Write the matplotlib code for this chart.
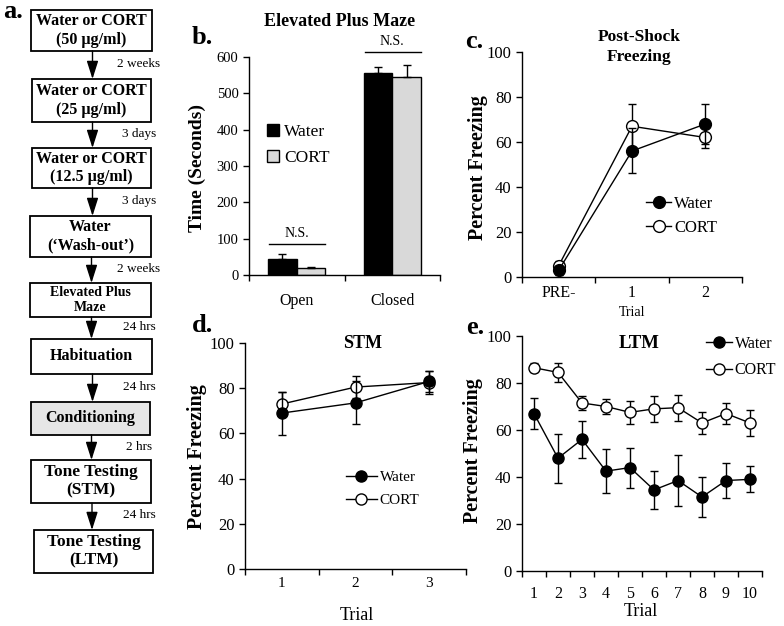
import matplotlib
matplotlib.use("Agg")
import matplotlib.pyplot as plt
from matplotlib.patches import Rectangle, FancyArrowPatch
from matplotlib.lines import Line2D
import numpy as np

plt.rcParams['font.family'] = ['Liberation Serif', 'DejaVu Serif']

W, H = 784, 626

# --- panel a: protocol steps
steps = ["Water or CORT\n(50 \u00b5g/ml)", "Water or CORT\n(25 \u00b5g/ml)",
         "Water or CORT\n(12.5 \u00b5g/ml)", "Water\n(\u2018Wash-out\u2019)",
         "Elevated Plus\nMaze", "Habituation", "Conditioning",
         "Tone Testing\n(STM)", "Tone Testing\n(LTM)"]
gaps = ["2 weeks", "3 days", "3 days", "2 weeks", "24 hrs", "24 hrs", "2 hrs", "24 hrs"]

# --- panel b: elevated plus maze
epm_groups = ["Open", "Closed"]
epm_water = [45, 555]
epm_water_err = [13, 17]
epm_cort = [20, 545]
epm_cort_err = [3, 33]

# --- panel c: post-shock freezing
shock_trials = ["PRE-", "1", "2"]
shock_water = [3, 56, 68]
shock_water_err = [2, 10, 9]
shock_cort = [5, 67, 62]
shock_cort_err = [2, 10, 4.5]

# --- panel d: STM
stm_trials = ["1", "2", "3"]
stm_water = [69, 73.5, 83]
stm_water_err = [9.5, 9.5, 4.5]
stm_cort = [73, 80.5, 82.5]
stm_cort_err = [5.5, 5, 5]

# --- panel e: LTM
ltm_trials = [str(i) for i in range(1, 11)]
ltm_water = [67, 48, 56, 42.5, 44, 34.5, 38.5, 31.5, 38.5, 39]
ltm_water_err = [6.5, 10.5, 8, 9.5, 8.5, 8, 11, 8.5, 7.5, 5.5]
ltm_cort = [86.5, 84.5, 71.5, 70, 67.5, 69, 69.5, 63, 67, 63]
ltm_cort_err = [2, 4, 3, 3, 5, 5.5, 5.5, 4.5, 4.5, 5.5]


fig = plt.figure(figsize=(W / 100, H / 100), dpi=100)


def px_axes(x0, y0, x1, y1):
    ax = fig.add_axes([x0 / W, 1 - y1 / H, (x1 - x0) / W, (y1 - y0) / H])
    ax.patch.set_visible(False)
    return ax


def style(ax, fs):
    for s in ['top', 'right']:
        ax.spines[s].set_visible(False)
    for s in ['left', 'bottom']:
        ax.spines[s].set_linewidth(1.0)
    ax.tick_params(direction='out', length=4, width=1, labelsize=fs)


def cat_axis(ax, labels, fs, pad):
    n = len(labels)
    ax.set_xlim(-0.5, n - 0.5)
    ax.set_xticks(range(n))
    ax.set_xticklabels(labels, fontsize=fs)
    ax.set_xticks(np.arange(n + 1) - 0.5, minor=True)
    ax.tick_params(axis='x', which='major', length=0, pad=pad)
    ax.tick_params(axis='x', which='minor', length=4, width=1, direction='out')


def lines(ax, y1, e1, y2, e2, ms=8):
    x = np.arange(len(y1))
    kw = dict(color='black', lw=1, capsize=3, elinewidth=1, capthick=1,
              marker='o', ms=ms, mec='black', mew=1, clip_on=False)
    ax.errorbar(x, y2, yerr=e2, mfc='white', zorder=3, **kw)
    ax.errorbar(x, y1, yerr=e1, mfc='black', zorder=4, **kw)


def line_legend(ax, xpx, ypx, fs, hl, sp, ms=8):
    hs = [Line2D([], [], color='black', lw=1, marker='o', ms=ms, mfc=c, mec='black')
          for c in ('black', 'white')]
    ax.legend(hs, ['Water', 'CORT'], loc='center left', bbox_to_anchor=(xpx / W, 1 - ypx / H),
              bbox_transform=fig.transFigure, frameon=False, fontsize=fs,
              handlelength=hl, handletextpad=0.2, labelspacing=sp,
              borderpad=0, borderaxespad=0)


# ---------- panel a (and figure-level text)
axa = fig.add_axes([0, 0, 1, 1])
axa.set_xlim(0, W)
axa.set_ylim(H, 0)
axa.axis('off')
axa.set_zorder(10)
boxes = [(31, 10, 152, 51), (32, 79, 151, 122), (32, 148, 151, 188),
         (30, 216, 151, 257), (30, 283, 151, 317), (31, 339, 152, 374),
         (31, 402, 150, 435), (31, 460, 151, 503), (34, 530, 153, 573)]
sizes = [11.5, 11.5, 11.5, 11.5, 10, 11.5, 11.5, 12.5, 12.5]
for i, (txt, (x0, y0, x1, y1)) in enumerate(zip(steps, boxes)):
    fc = '#e6e6e6' if txt == "Conditioning" else 'white'
    axa.add_patch(Rectangle((x0, y0), x1 - x0, y1 - y0, fc=fc, ec='black', lw=1.3))
    axa.text((x0 + x1) / 2, (y0 + y1) / 2, txt, ha='center', va='center',
             fontsize=sizes[i], fontweight='bold', linespacing=1.2)
for i, g in enumerate(gaps):
    b0 = boxes[i]
    b1 = boxes[i + 1]
    xa = (b0[0] + b0[2]) / 2 + 1
    axa.add_patch(FancyArrowPatch((xa, b0[3]), (xa, b1[1]),
                                  arrowstyle='-|>,head_length=11,head_width=3.5',
                                  color='black', lw=1, shrinkA=0, shrinkB=0))
    axa.text(139, (b0[3] + b1[1]) / 2 - 1, g, ha='center', va='center', fontsize=9.5)
for lab, x, y in [("a.", 3, 11), ("b.", 192, 38), ("c.", 465, 41),
                  ("d.", 192, 326), ("e.", 466, 328)]:
    axa.text(x, y, lab, fontsize=19, fontweight='bold', va='center', ha='left')

# titles and axis labels placed in figure pixels
axa.text(340, 21, "Elevated Plus Maze", ha='center', va='center', fontsize=13, fontweight='bold')
axa.text(639, 47, "Post-Shock\nFreezing", ha='center', va='center', fontsize=12.5,
         fontweight='bold', linespacing=1.4)
axa.text(363, 344, "STM", ha='center', va='center', fontsize=13, fontweight='bold')
axa.text(639, 343, "LTM", ha='center', va='center', fontsize=13.5, fontweight='bold')
axa.text(197, 168, "Time (Seconds)", ha='center', va='center', rotation=90,
         fontsize=14, fontweight='bold')
for x, y in [(478, 168), (197, 457), (473, 451)]:
    axa.text(x, y, "Percent Freezing", ha='center', va='center', rotation=90,
             fontsize=14.5, fontweight='bold')
axa.text(632, 312, "Trial", ha='center', va='center', fontsize=10)
axa.text(357, 615, "Trial", ha='center', va='center', fontsize=13)
axa.text(641, 612, "Trial", ha='center', va='center', fontsize=13)

# ---------- panel b
axb = px_axes(249, 57, 440, 275)
style(axb, 10.5)
xb = np.arange(len(epm_groups))
bw = 0.3
ekw = dict(capsize=3, elinewidth=1, ecolor='black', capthick=1)
axb.bar(xb - bw / 2, epm_water, bw, color='black', ec='black', lw=1, label='Water',
        yerr=[[0, 0], epm_water_err], error_kw=ekw)
axb.bar(xb + bw / 2, epm_cort, bw, color='#d9d9d9', ec='black', lw=1, label='CORT',
        yerr=[[0, 0], epm_cort_err], error_kw=ekw)
axb.set_ylim(0, 600)
axb.set_yticks(range(0, 601, 100))
cat_axis(axb, epm_groups, 11.5, 13)
for i in range(len(epm_groups)):
    top = max(epm_water[i] + epm_water_err[i], epm_cort[i] + epm_cort_err[i])
    yl = top + (27 if i == 0 else 36)
    axb.plot([i - 0.29, i + 0.3], [yl, yl], color='black', lw=1, clip_on=False)
    axb.text(i, yl + 10, "N.S.", ha='center', va='bottom', fontsize=10)
axb.legend(loc='center left', bbox_to_anchor=(267 / W, 1 - 145 / H),
           bbox_transform=fig.transFigure, frameon=False, fontsize=12.5,
           handlelength=0.7, handleheight=0.7, handletextpad=0.3,
           labelspacing=0.55, borderpad=0, borderaxespad=0)

# ---------- panel c
axc = px_axes(522, 52, 742, 277)
style(axc, 12)
lines(axc, shock_water, shock_water_err, shock_cort, shock_cort_err, ms=8.5)
axc.set_ylim(0, 100)
axc.set_yticks(range(0, 101, 20))
cat_axis(axc, shock_trials, 11.5, 6)
line_legend(axc, 646, 216, 12, 1.5, 0.45, ms=8.5)

# ---------- panel d
axd = px_axes(245, 343, 466, 569)
style(axd, 12)
lines(axd, stm_water, stm_water_err, stm_cort, stm_cort_err)
axd.set_ylim(0, 100)
axd.set_yticks(range(0, 101, 20))
cat_axis(axd, stm_trials, 11, 6)
line_legend(axd, 346, 489, 11, 2.0, 0.6)

# ---------- panel e
axe = px_axes(522, 336, 762, 571)
style(axe, 12)
lines(axe, ltm_water, ltm_water_err, ltm_cort, ltm_cort_err)
axe.set_ylim(0, 100)
axe.set_yticks(range(0, 101, 20))
cat_axis(axe, ltm_trials, 11.5, 11)
line_legend(axe, 706, 357, 11.5, 1.6, 0.65)

fig.savefig("out.png", dpi=100)
